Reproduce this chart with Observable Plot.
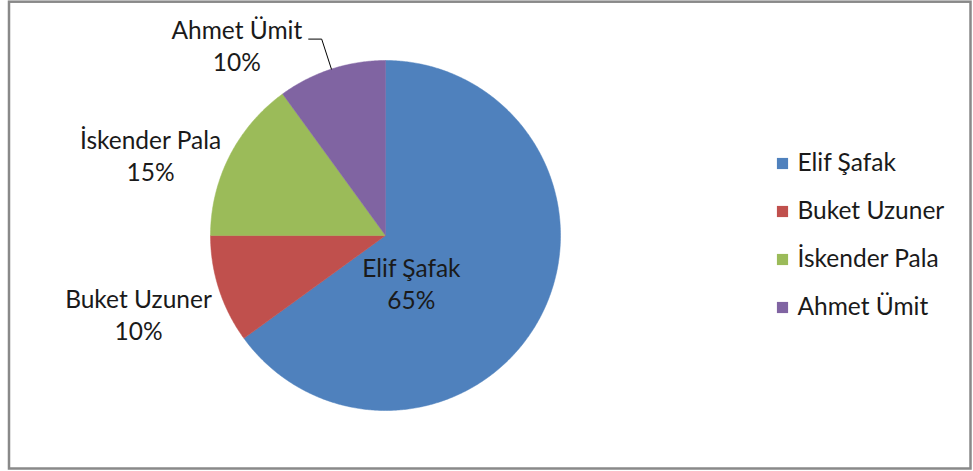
<!DOCTYPE html>
<html>
<head>
<meta charset="utf-8">
<script src="https://cdn.jsdelivr.net/npm/d3@7"></script>
<script src="https://cdn.jsdelivr.net/npm/@observablehq/plot@0.6"></script>
<style>
  html, body { margin: 0; padding: 0; background: #fff; }
  #chart svg { display: block; }
</style>
</head>
<body>
<div id="chart"></div>
<script>
// ---- data ----
const names = ["Elif Şafak", "Buket Uzuner", "İskender Pala", "Ahmet Ümit"];
const shares = [65, 10, 15, 10];
const colors = ["#4F81BD", "#C0504D", "#9BBB59", "#8064A2"];

// ---- layout ----
const W = 973, H = 471;
const cx = 385, cy = 235, R = 175;          // pie centre & radius in pixels
const labelPolar = [[151.5, 0.31], [252.5, 1.48], [289, 1.42], [322, 1.38]]; // [deg clockwise from top, radius]
const leaderIndex = 3;
const legendX = (782 - cx) / R, legendTextX = (797 - cx) / R;
const legendY0 = 163, legendStep = 48;
const font = "Lato, 'Open Sans', sans-serif";
const fs = 24.5;

const pie = d3.pie().sort(null).value(d => d)(shares);
const pt = (a, r) => ({x: Math.sin(a) * r, y: Math.cos(a) * r});

// slice polygons
const polys = [];
pie.forEach((p, i) => {
  polys.push({name: names[i], ...pt(0, 0)});
  const n = Math.max(2, Math.ceil((p.endAngle - p.startAngle) / (Math.PI / 360)));
  for (let k = 0; k <= n; k++) {
    const a = p.startAngle + (p.endAngle - p.startAngle) * k / n;
    polys.push({name: names[i], ...pt(a, 1)});
  }
  polys.push({name: names[i], ...pt(0, 0)});
});

// labels
const labels = pie.map((p, i) => {
  const [deg, r] = labelPolar[i];
  return {text: `${names[i]}\n${shares[i]}%`, ...pt(deg * Math.PI / 180, r)};
});

// leader line for Ahmet Ümit
const lp = pie[leaderIndex];
const mid = (lp.startAngle + lp.endAngle) / 2;
const elbow = pt(mid, 1.18);
const leader = [pt(mid, 1.0), elbow, {x: elbow.x - 13 / R, y: elbow.y}];

// legend
const legend = names.map((n, i) => ({name: n, y: (cy - (legendY0 + legendStep * i)) / R}));

const chart = Plot.plot({
  width: W, height: H,
  margin: 0,
  style: {fontFamily: font, background: "#fff"},
  x: {domain: [-cx / R, (W - cx) / R], axis: null},
  y: {domain: [-(H - cy) / R, cy / R], axis: null},
  color: {domain: names, range: colors},
  marks: [
    Plot.frame({stroke: "#898989", strokeWidth: 2.5, insetLeft: 8.5, insetTop: 1.2, insetRight: 3, insetBottom: 3}),
    Plot.line(polys, {x: "x", y: "y", z: "name", fill: "name", stroke: "name", strokeWidth: 0.5, curve: "linear"}),
    Plot.line(leader, {x: "x", y: "y", stroke: "#000", strokeWidth: 1}),
    Plot.text(labels, {x: "x", y: "y", text: "text", fontSize: fs, lineHeight: 32 / fs, fill: "#1a1a1a", textAnchor: "middle", lineAnchor: "middle"}),
    Plot.dot(legend, {x: () => legendX, y: "y", symbol: "square", r: 6.3, fill: "name", stroke: null}),
    Plot.text(legend, {x: () => legendTextX, y: "y", text: "name", fontSize: fs, fill: "#1a1a1a", textAnchor: "start", lineAnchor: "middle"})
  ]
});
document.getElementById("chart").append(chart);
</script>
</body>
</html>
